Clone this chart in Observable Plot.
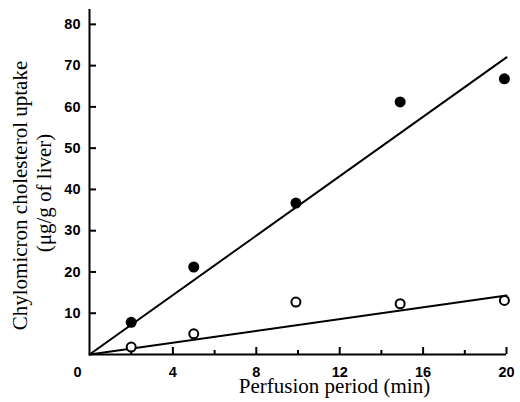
<!DOCTYPE html>
<html><head><meta charset="utf-8">
<script src="https://cdn.jsdelivr.net/npm/d3@7"></script>
<script src="https://cdn.jsdelivr.net/npm/@observablehq/plot@0.6"></script>
<style>body{margin:0;background:#fff}</style>
</head><body><div id="chart"></div>
<script>
// Data
const times = [2, 5, 9.9, 14.9, 19.9];
const filledUptake = [7.8, 21.2, 36.7, 61.2, 66.8];
const openUptake = [1.8, 5.0, 12.7, 12.3, 13.1];
const fitTimes = [0, 20];
const filledFit = [0, 72];
const openFit = [0, 14.3];
const xTickLabels = [4, 8, 12, 16, 20];
const xMinorTicks = [2, 6, 10, 14, 18];
const yTicks = [10, 20, 30, 40, 50, 60, 70, 80];
const originLabel = "0";
const xLabel = "Perfusion period (min)";
const yLabelLines = ["Chylomicron cholesterol uptake", "(μg/g of liver)"];

const filled = times.map((t, i) => ({t, v: filledUptake[i]}));
const open = times.map((t, i) => ({t, v: openUptake[i]}));
const filledLine = fitTimes.map((t, i) => ({t, v: filledFit[i]}));
const openLine = fitTimes.map((t, i) => ({t, v: openFit[i]}));

const tickFont = {fontSize: 14.5, fontWeight: "bold", fontFamily: "Liberation Sans"};
const serif = {fontSize: 21, fontFamily: "Liberation Serif", fill: "black"};

const chart = Plot.plot({
  width: 520,
  height: 402,
  marginLeft: 89,
  marginRight: 14,
  marginTop: 9,
  marginBottom: 48,
  x: {domain: [0, 20]},
  y: {domain: [0, 83.6]},
  style: {fontFamily: "Liberation Sans", background: "white", color: "black"},
  marks: [
    Plot.axisY(yTicks, {tickSize: -7, tickPadding: 16, strokeWidth: 2, label: null, ...tickFont}),
    Plot.axisX(xTickLabels, {tickSize: -7, tickPadding: 19.5, strokeWidth: 2, label: null, ...tickFont}),
    Plot.axisX(xMinorTicks, {tickSize: -4, strokeWidth: 2, label: null, tickFormat: () => ""}),
    Plot.text([originLabel], {frameAnchor: "bottom-left", textAnchor: "middle", dx: -12, dy: 12.5, lineAnchor: "top", ...tickFont}),
    Plot.ruleX([0], {strokeWidth: 2}),
    Plot.ruleY([0], {strokeWidth: 2}),
    Plot.line(filledLine, {x: "t", y: "v", strokeWidth: 2, stroke: "black"}),
    Plot.line(openLine, {x: "t", y: "v", strokeWidth: 2, stroke: "black"}),
    Plot.dot(open, {x: "t", y: "v", r: 4.5, stroke: "black", strokeWidth: 2, fill: "white"}),
    Plot.dot(filled, {x: "t", y: "v", r: 5.5, fill: "black"}),
    Plot.text([yLabelLines[0]], {frameAnchor: "left", textAnchor: "middle", rotate: -90, dx: -69, dy: 13.5, ...serif}),
    Plot.text([yLabelLines[1]], {frameAnchor: "left", textAnchor: "middle", rotate: -90, dx: -45, dy: 11, ...serif}),
    Plot.text([xLabel], {frameAnchor: "bottom", textAnchor: "middle", dx: 36.5, dy: 23.5, lineAnchor: "top", ...serif})
  ]
});
document.getElementById("chart").appendChild(chart);
</script>
</body></html>
